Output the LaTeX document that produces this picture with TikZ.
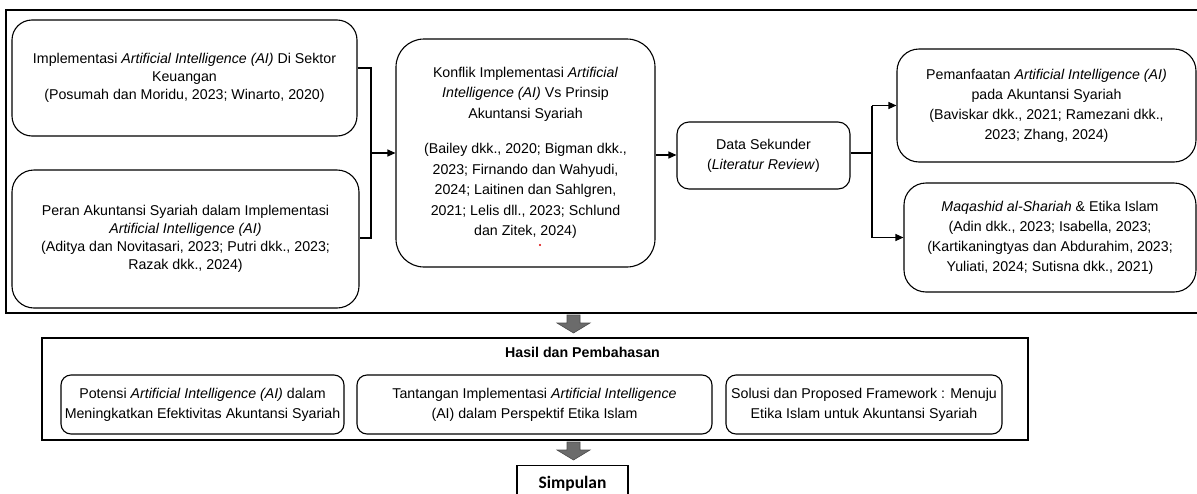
\documentclass[tikz,border=0pt]{standalone}
\usepackage{fontspec}
\setmainfont{Liberation Sans}
\newfontfamily\calib{Carlito}
\usetikzlibrary{arrows.meta}
\begin{document}
\begin{tikzpicture}[x=1pt,y=-1pt,
  rbox/.style={draw, line width=1.1pt, rounded corners=#1, inner sep=0pt, align=center},
  lead/.style={font=\fontsize{14.2}{#1}\selectfont},
  conn/.style={line width=1.1pt},
  arr/.style={line width=1.1pt, -{Triangle[length=8pt,width=7pt]}},
  frame/.style={line width=1.3pt},
  grayarrow/.style={fill=black!58, draw=black!70, line width=0.6pt}
]
\useasboundingbox (0,0) rectangle (1197,493);

% outer frame (open to the right)
\draw[frame] (1210,10) -- (6,10) -- (6,313) -- (1210,313);

% left column
\node[rbox=20, lead=18, minimum width=345, minimum height=116] (A) at (184.5,78)
  {Implementasi \textit{Artificial Intelligence (AI)} Di Sektor\\Keuangan\\(Posumah dan Moridu, 2023; Winarto, 2020)};
\node[rbox=22, lead=18, minimum width=347, minimum height=138] (B) at (185.5,239)
  {Peran Akuntansi Syariah dalam Implementasi\\\textit{Artificial Intelligence (AI)}\\(Aditya dan Novitasari, 2023; Putri dkk., 2023;\\Razak dkk., 2024)};

% middle
\node[rbox=28, lead=20.5, minimum width=259, minimum height=228] (C) at (525.5,153)
  {Konflik Implementasi \textit{Artificial}\\\textit{Intelligence (AI)} Vs Prinsip\\Akuntansi Syariah\\[15pt]
   (Bailey dkk., 2020; Bigman dkk.,\\2023; Firnando dan Wahyudi,\\2024; Laitinen dan Sahlgren,\\2021; Lelis dll., 2023; Schlund\\dan Zitek, 2024)};
\node[rbox=12, lead=20, minimum width=173, minimum height=67] (D) at (763.5,155.5)
  {Data Sekunder\\(\textit{Literatur Review})};

% right column
\node[rbox=22, lead=20, minimum width=299, minimum height=113] (E) at (1046.5,105.5)
  {Pemanfaatan \textit{Artificial Intelligence (AI)}\\pada Akuntansi Syariah\\(Baviskar dkk., 2021; Ramezani dkk.,\\2023; Zhang, 2024)};
\node[rbox=22, lead=20, minimum width=292, minimum height=109] (F) at (1050,237.5)
  {\textit{Maqashid al-Shariah} \& Etika Islam\\(Adin dkk., 2023; Isabella, 2023;\\(Kartikaningtyas dan Abdurahim, 2023;\\Yuliati, 2024; Sutisna dkk., 2021)};

% connectors left -> C
\coordinate (j1) at (371,68);
\coordinate (j2) at (371,238);
\coordinate (j3) at (371,153);
\draw[conn] (j1 -| A.east) -- (j1) -- (j2) -- (j2 -| B.east);
\draw[arr] (j3) -- (j3 -| C.west);

% C -> D
\coordinate (k1) at (655,155);
\draw[arr] (k1 -| C.east) -- (k1 -| D.west);

% D -> E, F
\coordinate (b0) at (872,153);
\coordinate (b1) at (872,105.5);
\coordinate (b2) at (872,237.5);
\draw[conn] (b0 -| D.east) -- (b0);
\draw[conn] (b1) -- (b2);
\draw[arr] (b1) -- (E.west);
\draw[arr] (b2) -- (F.west);

% red mark
\fill[red!85!black] (540,245) circle (1.2pt);

% gray arrow 1
\draw[grayarrow] (567,315) -- (580,315) -- (580,323) -- (590,323) -- (573.5,333) -- (557,323) -- (567,323) -- cycle;

% Hasil dan Pembahasan frame
\node[draw, frame, minimum width=986, minimum height=102, inner sep=0pt] (H0) at (535,389) {};
\node[font=\fontsize{14.2}{17}\selectfont\bfseries] (Ht) at (582.5,352) {Hasil dan Pembahasan};

\node[rbox=10, lead=20, minimum width=283, minimum height=59] (G) at (202.5,404.5)
  {Potensi \textit{Artificial Intelligence (AI)} dalam\\Meningkatkan Efektivitas Akuntansi Syariah};
\node[rbox=10, lead=20, minimum width=355, minimum height=59] (H) at (534.5,404.5)
  {Tantangan Implementasi \textit{Artificial Intelligence}\\(AI) dalam Perspektif Etika Islam};
\node[rbox=10, lead=20, minimum width=276, minimum height=59] (I) at (864,404.5)
  {Solusi dan Proposed Framework : Menuju\\Etika Islam untuk Akuntansi Syariah};

% gray arrow 2
\draw[grayarrow] (567,442) -- (580,442) -- (580,450) -- (590,450) -- (573.5,460) -- (557,450) -- (567,450) -- cycle;

% Simpulan
\node[draw, line width=1.1pt, minimum width=111, minimum height=40, inner sep=0pt, anchor=north] (S) at (572.5,465) {};
\node[font=\calib\fontsize{17.5}{20}\selectfont\bfseries, anchor=base] (St) at (572.5,488) {Simpulan};
\end{tikzpicture}
\end{document}
